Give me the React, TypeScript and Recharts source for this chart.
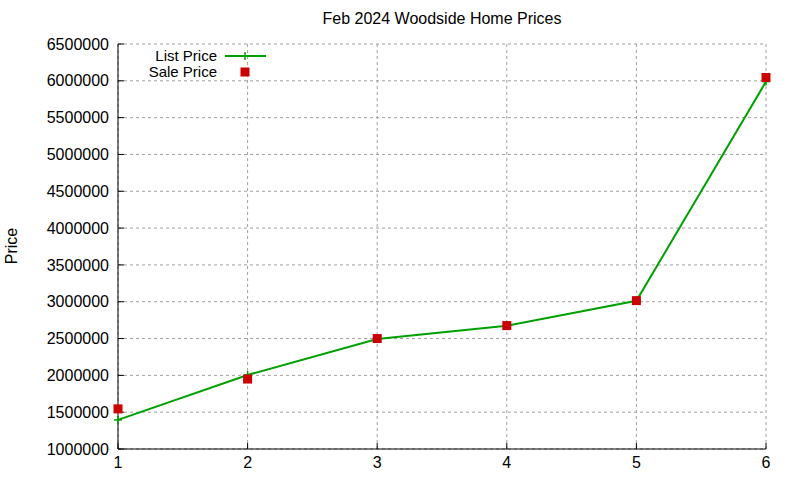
import React from 'react';
import { LineChart, Line, XAxis, YAxis, CartesianGrid, Legend } from 'recharts';

const xValues = [1, 2, 3, 4, 5, 6];
const listPrices = [1395000, 2005000, 2495000, 2674000, 3012000, 5990000];
const salePrices = [1545000, 1950000, 2500000, 2676000, 3015000, 6045000];
const yTicks = [1000000, 1500000, 2000000, 2500000, 3000000, 3500000, 4000000, 4500000, 5000000, 5500000, 6000000, 6500000];
const xTicks = [1, 2, 3, 4, 5, 6];

const data = xValues.map((x, i) => ({ x, list: listPrices[i], sale: salePrices[i] }));

const FONT = '"Liberation Sans", Arial, sans-serif';
const GREEN = '#00a000';
const RED = '#cc0000';
const FS = 16;

const PlusDot = (props: any) => {
  const { cx, cy } = props;
  if (cx == null || cy == null) return null;
  return (
    <g>
      <line x1={cx - 4} x2={cx + 4} y1={cy} y2={cy} stroke={GREEN} strokeWidth={1.5} />
      <line x1={cx} x2={cx} y1={cy - 4} y2={cy + 4} stroke={GREEN} strokeWidth={1.5} />
    </g>
  );
};

const SquareDot = (props: any) => {
  const { cx, cy } = props;
  if (cx == null || cy == null) return null;
  return <rect x={cx - 4.5} y={cy - 4.5} width={9} height={9} fill={RED} />;
};

const renderLegend = () => (
  <div style={{ fontFamily: FONT, fontSize: 15, color: '#000', lineHeight: '16px' }}>
    <div style={{ display: 'flex', alignItems: 'center', height: 16 }}>
      <span style={{ width: 100, textAlign: 'right', whiteSpace: 'nowrap' }}>List Price</span>
      <svg width={52} height={16}>
        <line x1={8} x2={49} y1={8} y2={8} stroke={GREEN} strokeWidth={2} />
        <line x1={24} x2={32} y1={8} y2={8} stroke={GREEN} strokeWidth={1.5} />
        <line x1={28} x2={28} y1={4} y2={12} stroke={GREEN} strokeWidth={1.5} />
      </svg>
    </div>
    <div style={{ display: 'flex', alignItems: 'center', height: 16 }}>
      <span style={{ width: 100, textAlign: 'right', whiteSpace: 'nowrap' }}>Sale Price</span>
      <svg width={52} height={16}>
        <rect x={23.5} y={3.5} width={9} height={9} fill={RED} />
      </svg>
    </div>
  </div>
);

const tickStyle = { fontFamily: FONT, fontSize: FS, fill: '#000' };

export default function App() {
  return (
    <div style={{ position: 'absolute', left: 0, top: 0, width: 800, height: 480, background: '#fff' }}>
      <div
        style={{
          position: 'absolute',
          left: 0,
          width: 884,
          top: 10,
          textAlign: 'center',
          fontFamily: FONT,
          fontSize: FS,
          color: '#000',
        }}
      >
        Feb 2024 Woodside Home Prices
      </div>
      <div
        style={{
          position: 'absolute',
          left: 3,
          top: 246,
          fontFamily: FONT,
          fontSize: FS,
          transform: 'translate(-50%, -50%) rotate(-90deg)',
          transformOrigin: 'center',
          marginLeft: 9,
        }}
      >
        Price
      </div>
      <LineChart width={800} height={480} data={data} margin={{ top: 44, right: 34, bottom: 0, left: 0 }}>
        <CartesianGrid stroke="#a0a0a0" strokeDasharray="3 3" />
        <XAxis
          dataKey="x"
          type="number"
          domain={[1, 6]}
          ticks={xTicks}
          height={31}
          tick={tickStyle}
          tickSize={-6}
          tickMargin={14}
          axisLine={{ stroke: '#000' }}
          tickLine={{ stroke: '#000' }}
        />
        <XAxis
          xAxisId="top"
          dataKey="x"
          type="number"
          orientation="top"
          domain={[1, 6]}
          ticks={xTicks}
          height={0}
          tickFormatter={() => ''}
          tickSize={-6}
          axisLine={{ stroke: '#000' }}
          tickLine={{ stroke: '#000' }}
        />
        <YAxis
          type="number"
          domain={[1000000, 6500000]}
          ticks={yTicks}
          width={118}
          tick={tickStyle}
          tickSize={-6}
          tickMargin={15}
          interval={0}
          allowDataOverflow
          axisLine={{ stroke: '#000' }}
          tickLine={{ stroke: '#000' }}
        />
        <YAxis
          yAxisId="right"
          orientation="right"
          type="number"
          domain={[1000000, 6500000]}
          ticks={yTicks}
          width={0}
          interval={0}
          tickFormatter={() => ''}
          tickSize={-6}
          axisLine={{ stroke: '#000' }}
          tickLine={{ stroke: '#000' }}
        />
        <Legend
          content={renderLegend}
          layout="horizontal"
          verticalAlign="middle"
          align="center"
          wrapperStyle={{ position: 'absolute', left: 117, top: 48, width: 160, height: 32 }}
        />
        <Line
          dataKey="list"
          stroke={GREEN}
          strokeWidth={2}
          dot={<PlusDot />}
          activeDot={false}
          isAnimationActive={false}
        />
        <Line
          dataKey="sale"
          stroke="none"
          dot={<SquareDot />}
          activeDot={false}
          isAnimationActive={false}
        />
      </LineChart>
    </div>
  );
}
